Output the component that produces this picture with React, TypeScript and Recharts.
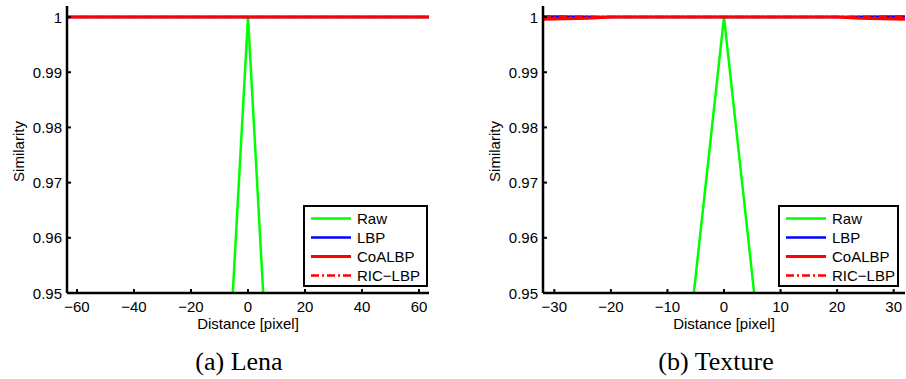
import React from "react";
import { LineChart, Line, XAxis, YAxis, Legend } from "recharts";

const FONT = '"Liberation Sans", Arial, Helvetica, sans-serif';
const SERIF = '"Liberation Serif", "Times New Roman", serif';

// Lena
const lenaDistance = [-64, -48, -32, -16, -8, 0, 8, 16, 32, 48, 64];
const lenaRaw = [0.6, 0.62, 0.66, 0.74, 0.925, 1, 0.925, 0.74, 0.66, 0.62, 0.6];
const lenaLbp = [1, 1, 1, 1, 1, 1, 1, 1, 1, 1, 1];
const lenaCoalbp = [1, 1, 1, 1, 1, 1, 1, 1, 1, 1, 1];
const lenaRicLbp = [1, 1, 1, 1, 1, 1, 1, 1, 1, 1, 1];

// Texture
const texDistance = [-32, -24, -20, -16, -8, 0, 8, 16, 20, 24, 32];
const texRaw = [0.7, 0.74, 0.77, 0.8, 0.925, 1, 0.925, 0.8, 0.77, 0.74, 0.7];
const texLbp = [1.0001, 1.00005, 1, 1, 1, 1, 1, 1, 1, 1.00005, 1.0001];
const texCoalbp = [0.9996, 0.9998, 1, 1, 1, 1, 1, 1, 1, 0.9998, 0.9996];
const texRicLbp = [1.0001, 1.00005, 1, 1, 1, 1, 1, 1, 1, 1.00005, 1.0001];

const lenaTicks = [-60, -40, -20, 0, 20, 40, 60];
const texTicks = [-30, -20, -10, 0, 10, 20, 30];
const simTicks = [0.95, 0.96, 0.97, 0.98, 0.99, 1];

const SERIES = [
  { key: "Raw", color: "#00ff00", width: 2.5, dash: undefined },
  { key: "LBP", color: "#0000ff", width: 2.5, dash: undefined },
  { key: "CoALBP", color: "#ff0000", width: 3, dash: undefined },
  { key: "RIC\u2212LBP", color: "#ff0000", width: 2.5, dash: "8 3 2 3" },
];

function rows(d: number[], a: number[], b: number[], c: number[], e: number[]) {
  return d.map((x, i) => ({ x, Raw: a[i], LBP: b[i], CoALBP: c[i], "RIC\u2212LBP": e[i] }));
}

const fmt = (v: number) => String(+v.toFixed(3)).replace("-", "\u2212");

const BottomTick = (p: any) => (
  <g>
    <line x1={p.x} x2={p.x} y1={p.y} y2={p.y - 4} stroke="#000" strokeWidth={2} />
    <text x={p.x} y={p.y + 13} textAnchor="middle" dominantBaseline="central" fontSize={15} fontFamily={FONT} fill="#000">
      {fmt(p.payload.value)}
    </text>
  </g>
);
const LeftTick = (p: any) => (
  <g>
    <line x1={p.x} x2={p.x + 4} y1={p.y} y2={p.y} stroke="#000" strokeWidth={2} />
    <text x={p.x - 5} y={p.y} textAnchor="end" dominantBaseline="central" fontSize={15} fontFamily={FONT} fill="#000">
      {fmt(p.payload.value)}
    </text>
  </g>
);
const TopTick = (p: any) => <line x1={p.x} x2={p.x} y1={p.y} y2={p.y + 4} stroke="#000" strokeWidth={2} />;
const RightTick = (p: any) => <line x1={p.x} x2={p.x - 4} y1={p.y} y2={p.y} stroke="#000" strokeWidth={2} />;

function LegendBox() {
  return (
    <div
      style={{
        boxSizing: "border-box", width: "100%", height: "100%", border: "2.5px solid #000",
        background: "#fff", paddingTop: 2, fontFamily: FONT, fontSize: 15, color: "#000",
      }}
    >
      {SERIES.map((s) => (
        <div key={s.key} style={{ height: 19, display: "flex", alignItems: "center" }}>
          <svg width={52} height={19} style={{ display: "block" }}>
            <line x1={6} x2={46} y1={9.5} y2={9.5} stroke={s.color} strokeWidth={s.width} strokeDasharray={s.dash} />
          </svg>
          <span style={{ lineHeight: "19px" }}>{s.key}</span>
        </div>
      ))}
    </div>
  );
}

function Panel(props: { data: any[]; domain: [number, number]; ticks: number[]; width: number; right: number; legendLeft: number; legendWidth: number }) {
  const axis = { stroke: "#000", strokeWidth: 2.5 };
  return (
    <LineChart width={props.width} height={340} data={props.data} margin={{ top: 6, right: props.right, bottom: 7, left: 0 }}>
      <XAxis
        dataKey="x" type="number" domain={props.domain} ticks={props.ticks} allowDataOverflow
        height={40} tickSize={0} tickMargin={0} tickLine={false} axisLine={axis} tick={BottomTick}
        label={{
          content: ({ viewBox }: any) => (
            <text x={viewBox.x + viewBox.width / 2} y={viewBox.y + 30} textAnchor="middle" dominantBaseline="central" fontSize={15} fontFamily={FONT}>
              Distance [pixel]
            </text>
          ),
        }}
      />
      <XAxis
        xAxisId="top" orientation="top" dataKey="x" type="number" domain={props.domain} ticks={props.ticks} allowDataOverflow
        height={0} tickSize={0} tickMargin={0} tickLine={false} axisLine={axis} tick={TopTick}
      />
      <YAxis
        type="number" domain={[0.95, 1.002]} ticks={simTicks} allowDataOverflow width={67}
        tickSize={0} tickMargin={0} tickLine={false} axisLine={axis} tick={LeftTick}
        label={{
          content: ({ viewBox }: any) => {
            const cy = viewBox.y + viewBox.height / 2 + 2;
            return (
              <text x={18} y={cy} transform={`rotate(-90 18 ${cy})`} textAnchor="middle" dominantBaseline="central" fontSize={15} fontFamily={FONT}>
                Similarity
              </text>
            );
          },
        }}
      />
      <YAxis
        yAxisId="right" orientation="right" type="number" domain={[0.95, 1.002]} ticks={simTicks} allowDataOverflow
        width={0} tickSize={0} tickMargin={0} tickLine={false} axisLine={axis} tick={RightTick}
      />
      {SERIES.map((s) => (
        <Line
          key={s.key} dataKey={s.key} type="linear" stroke={s.color} strokeWidth={s.width}
          strokeDasharray={s.dash} dot={false} activeDot={false} isAnimationActive={false}
        />
      ))}
      <Legend
        layout="vertical" align="center" verticalAlign="middle"
        wrapperStyle={{ position: "absolute", left: props.legendLeft, top: 205, width: props.legendWidth, height: 82 }}
        content={() => <LegendBox />}
      />
    </LineChart>
  );
}

export default function App() {
  const caption = { position: "absolute" as const, top: 346, fontFamily: SERIF, fontSize: 26, lineHeight: "32px", textAlign: "center" as const, color: "#000" };
  return (
    <div style={{ position: "absolute", left: 0, top: 0, width: 906, height: 379, background: "#fff" }}>
      <div style={{ position: "absolute", left: 0, top: 0 }}>
        <Panel
          data={rows(lenaDistance, lenaRaw, lenaLbp, lenaCoalbp, lenaRicLbp)} domain={[-63.5, 63.5]} ticks={lenaTicks}
          width={440} right={11} legendLeft={303} legendWidth={125}
        />
      </div>
      <div style={{ position: "absolute", left: 476, top: 0 }}>
        <Panel
          data={rows(texDistance, texRaw, texLbp, texCoalbp, texRicLbp)} domain={[-32, 32]} ticks={texTicks}
          width={430} right={1} legendLeft={302} legendWidth={121}
        />
      </div>
      <div style={{ ...caption, left: 0, width: 478 }}>(a) Lena</div>
      <div style={{ ...caption, left: 476, width: 480 }}>(b) Texture</div>
    </div>
  );
}
